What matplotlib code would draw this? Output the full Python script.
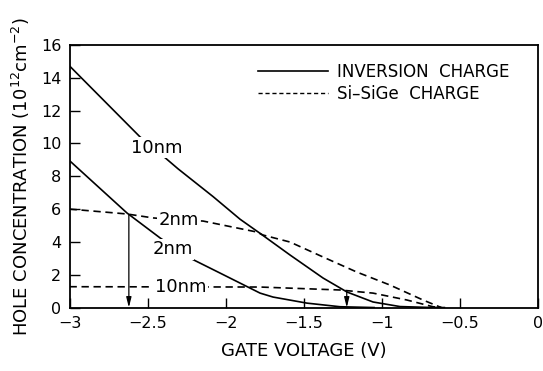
import numpy as np
import matplotlib
matplotlib.use('Agg')
import matplotlib.pyplot as plt
from matplotlib.lines import Line2D


# inversion charge (solid)
inv_10nm_v = [-3.00, -2.55, -2.38, -2.305, -2.081, -1.908, -1.78, -1.588, -1.377, -1.223, -1.057, -0.884, -0.71, -0.60]
inv_10nm_q = [14.72, 10.41, 9.06, 8.45, 6.76, 5.38, 4.52, 3.20, 1.80, 0.945, 0.34, 0.06, 0.01, 0.0]

inv_2nm_v = [-3.00, -2.632, -2.42, -2.23, -2.036, -1.908, -1.78, -1.697, -1.48, -1.268, -1.05]
inv_2nm_q = [8.95, 5.76, 4.24, 3.02, 2.10, 1.49, 0.88, 0.64, 0.27, 0.05, 0.0]

# Si-SiGe charge (dashed)
sige_2nm_v = [-3.00, -2.632, -2.465, -2.305, -2.145, -1.80, -1.762, -1.588, -1.377, -1.16, -0.948, -0.737, -0.62]
sige_2nm_q = [6.00, 5.70, 5.46, 5.34, 5.27, 4.60, 4.42, 3.99, 3.08, 2.16, 1.37, 0.46, 0.0]

sige_10nm_v = [-3.00, -1.78, -1.268, -1.057, -0.84, -0.673, -0.62]
sige_10nm_q = [1.27, 1.25, 1.07, 0.88, 0.46, 0.05, 0.0]

# curve labels
label_text = ['10nm', '2nm', '2nm', '10nm']
label_v = [-2.44, -2.34, -2.30, -2.29]
label_q = [9.73, 3.55, 5.34, 1.25]

# arrows (gate voltage, start charge)
arrow_v = [-2.62, -1.225]
arrow_q = [5.65, 1.02]

xticks = [-3, -2.5, -2, -1.5, -1, -0.5, 0]
xtick_labels = ['\u22123', '\u22122.5', '\u22122', '\u22121.5', '\u22121', '\u22120.5', '0']
yticks = [0, 2, 4, 6, 8, 10, 12, 14, 16]

DASH = (0, (4.4, 2.8))

fig = plt.figure(figsize=(5.43, 3.71), dpi=100)
ax = fig.add_axes([0.128, 0.171, 0.863, 0.708])

ax.plot(inv_10nm_v, inv_10nm_q, color='black', lw=1.2, zorder=2)
ax.plot(inv_2nm_v, inv_2nm_q, color='black', lw=1.2, zorder=2)
ax.plot(sige_2nm_v, sige_2nm_q, color='black', lw=1.2, ls=DASH, zorder=2)
ax.plot(sige_10nm_v, sige_10nm_q, color='black', lw=1.2, ls=DASH, zorder=2)

for t, v, q in zip(label_text, label_v, label_q):
    ax.text(v, q, t, fontsize=13, ha='center', va='center', zorder=4,
            bbox=dict(facecolor='white', edgecolor='none', pad=1.0))

for v, q in zip(arrow_v, arrow_q):
    ax.annotate('', xy=(v, 0), xytext=(v, q), zorder=3,
                arrowprops=dict(arrowstyle='-|>,head_length=0.6,head_width=0.15',
                                color='black', lw=0.9, shrinkA=0, shrinkB=0))

handles = [Line2D([], [], color='black', lw=1.2),
           Line2D([], [], color='black', lw=1.0, ls=(0, (3, 2)))]
ax.legend(handles, ['INVERSION  CHARGE', 'Si\u2013SiGe  CHARGE'], loc='upper right',
          bbox_to_anchor=(0.97, 0.99), frameon=False, fontsize=12,
          handlelength=4.2, handletextpad=0.5, labelspacing=0.25)

ax.set_xlim(-3, 0)
ax.set_ylim(0, 16)
ax.set_xticks(xticks)
ax.set_xticklabels(xtick_labels)
ax.set_yticks(yticks)
ax.tick_params(direction='in', length=7, width=1.0, labelsize=11.5, pad=6,
               top=False, right=False)
for s in ax.spines.values():
    s.set_linewidth(1.3)

ax.set_xlabel('GATE VOLTAGE (V)', fontsize=13, labelpad=8)
ax.set_ylabel('HOLE CONCENTRATION (10$^{12}$cm$^{-2}$)', fontsize=13, labelpad=6)

fig.savefig('out.png', dpi=100)
